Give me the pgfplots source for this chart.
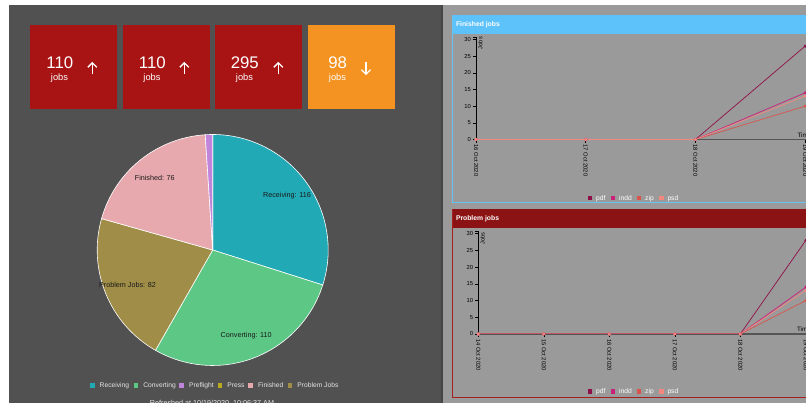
\documentclass[border=0pt]{standalone}
\usepackage{fontspec}
\setmainfont{Liberation Sans}
\usepackage{pgfplots}
\usepackage{pgfplotstable}
\pgfplotsset{compat=1.18}
\definecolor{bgL}{HTML}{515151}
\definecolor{bgR}{HTML}{9A9A9A}
\definecolor{stripe}{HTML}{464646}
\definecolor{boxred}{HTML}{A81414}
\definecolor{boxorange}{HTML}{F49321}
\definecolor{cRec}{HTML}{21A9B5}
\definecolor{cCon}{HTML}{5DC886}
\definecolor{cPre}{HTML}{C085DB}
\definecolor{cPress}{HTML}{B8AB1E}
\definecolor{cFin}{HTML}{E7A9AE}
\definecolor{cProb}{HTML}{A08E48}
\definecolor{finH}{HTML}{5EC2FA}
\definecolor{finB}{HTML}{66C3F2}
\definecolor{proH}{HTML}{8C1313}
\definecolor{proB}{HTML}{A52020}
\definecolor{cpdf}{HTML}{8F1048}
\definecolor{cindd}{HTML}{C9207A}
\definecolor{czip}{HTML}{D9544D}
\definecolor{cpsd}{HTML}{F5877E}
\definecolor{axgray}{HTML}{555555}
\definecolor{legtxt}{HTML}{E6E6E6}

\pgfplotstableread{
value
116
110
82
76
4
0
}\pietable

\pgfplotstableread{
x pdf indd zip psd
0 0 0 0 0
1 0 0 0 0
2 0 0 0 0
3 28 14 10 13
}\finished

\pgfplotstableread{
x pdf indd zip psd
0 0 0 0 0
1 0 0 0 0
2 0 0 0 0
3 0 0 0 0
4 0 0 0 0
5 28 14 10 13
}\problem

\pgfplotsset{
  lineax/.style={
    anchor=south west, scale only axis, enlargelimits=false,
    ymin=0, ymax=30.7,
    axis x line=bottom, axis y line=left,
    axis line style={-},
    x axis line style={line width=1.7pt, color=axgray},
    y axis line style={black, line width=0.7pt},
    ytick={0,5,...,30},
    extra y ticks={30.7}, extra y tick labels={},
    tick align=outside, major tick length=3.5pt,
    tick style={black, line width=0.6pt},
    /pgf/number format/assume math mode=true,
    ticklabel style={font=\fontsize{5.8}{6}\selectfont, text=black},
    xticklabel style={rotate=-90, anchor=west, inner sep=1.5pt},
    yticklabel style={inner sep=1.5pt},
    every axis plot/.append style={line width=0.7pt, mark=*, mark size=1.1pt},
  }
}

\begin{document}
\begin{tikzpicture}[x=1pt,y=1pt]
\useasboundingbox (0,0) rectangle (806,403);
\clip (0,0) rectangle (806,403);
% pie angles from the table
\gdef\pietotal{0}
\foreach \r in {0,...,5}{%
  \pgfplotstablegetelem{\r}{value}\of\pietable
  \pgfmathsetmacro\tmpt{\pietotal+\pgfplotsretval}%
  \xdef\pietotal{\tmpt}%
}
\gdef\cum{0}
\foreach \r in {0,...,5}{%
  \pgfmathsetmacro\tmpa{90-\cum/\pietotal*360}%
  \expandafter\xdef\csname pa\r\endcsname{\tmpa}%
  \pgfplotstablegetelem{\r}{value}\of\pietable
  \pgfmathsetmacro\tmpc{\cum+\pgfplotsretval}%
  \xdef\cum{\tmpc}%
}
\pgfmathsetmacro\tmpa{90-\cum/\pietotal*360}
\expandafter\xdef\csname pa6\endcsname{\tmpa}

\begin{scope}[shift={(0pt,403pt)}, y=-1pt]
\fill[white] (0,0) rectangle (806,403);
\fill[bgL] (9,5) rectangle (441,403);
\fill[stripe] (441,5) rectangle (443,403);
\fill[bgR] (443,5) rectangle (806,403);
% KPI boxes
\fill[boxred] (30,25) rectangle (117,109.5);
\fill[boxred] (122.5,25) rectangle (209.5,109.5);
\fill[boxred] (215,25) rectangle (302,109.5);
\fill[boxorange] (308,25) rectangle (395,109.5);
\foreach \bx/\nm/\ax in {30/110/92.3, 122.5/110/184.3, 215/295/278.3}{%
  \node[white, font=\fontsize{16.8}{17}\selectfont, inner sep=0] at (\bx+29.8,62.8) {\nm};
  \node[white, font=\fontsize{9.3}{10}\selectfont, inner sep=0] at (\bx+29.5,77.7) {jobs};
  \draw[white, line width=1.3pt] (\ax,74.5) -- (\ax,63);
  \draw[white, line width=1.3pt, line join=miter] (\ax-4.5,67.3) -- (\ax,62.8) -- (\ax+4.5,67.3);
}
\node[white, font=\fontsize{16.8}{17}\selectfont, inner sep=0] at (337.7,62.8) {98};
\node[white, font=\fontsize{9.3}{10}\selectfont, inner sep=0] at (337.5,77.7) {jobs};
\draw[white, line width=1.3pt] (366,62.5) -- (366,74);
\draw[white, line width=1.3pt, line join=miter] (361.5,69.7) -- (366,74.2) -- (370.5,69.7);
% right panels
\draw[finB, line width=0.8pt] (452.5,15.5) rectangle (830,202.5);
\fill[finH] (452.5,15.5) rectangle (830,34);
\node[white, font=\bfseries\fontsize{6.8}{7}\selectfont, anchor=west, inner sep=0] at (455.8,25) {Finished jobs};
\draw[proB, line width=0.8pt] (452.5,209.5) rectangle (830,397);
\fill[proH] (452.5,209.5) rectangle (830,228);
\node[white, font=\bfseries\fontsize{6.8}{7}\selectfont, anchor=west, inner sep=0] at (455.8,219) {Problem jobs};
\coordinate (finO) at (476,139.5);
\coordinate (proO) at (478.3,334);
\coordinate (pieC) at (212.7,250);
\end{scope}

% pie chart
\begin{axis}[at={(pieC)}, anchor=center, x=115.5pt, y=115.5pt,
  xmin=-1, xmax=1, ymin=-1, ymax=1, hide axis, clip=false]
\fill[cRec, draw=white, line width=0.6pt] (axis cs:0,0) -- ++(\csname pa0\endcsname:115.5pt) arc[start angle=\csname pa0\endcsname, end angle=\csname pa1\endcsname, radius=115.5pt] -- cycle;
\fill[cCon, draw=white, line width=0.6pt] (axis cs:0,0) -- ++(\csname pa1\endcsname:115.5pt) arc[start angle=\csname pa1\endcsname, end angle=\csname pa2\endcsname, radius=115.5pt] -- cycle;
\fill[cProb, draw=white, line width=0.6pt] (axis cs:0,0) -- ++(\csname pa2\endcsname:115.5pt) arc[start angle=\csname pa2\endcsname, end angle=\csname pa3\endcsname, radius=115.5pt] -- cycle;
\fill[cFin, draw=white, line width=0.6pt] (axis cs:0,0) -- ++(\csname pa3\endcsname:115.5pt) arc[start angle=\csname pa3\endcsname, end angle=\csname pa4\endcsname, radius=115.5pt] -- cycle;
\fill[cPre, draw=white, line width=0.6pt] (axis cs:0,0) -- ++(\csname pa4\endcsname:115.5pt) arc[start angle=\csname pa4\endcsname, end angle=\csname pa5\endcsname, radius=115.5pt] -- cycle;
\node[font=\fontsize{7.2}{8}\selectfont, text=black!90, inner sep=0] at (axis cs:{0.797*cos((\csname pa0\endcsname+\csname pa1\endcsname)/2)},{0.797*sin((\csname pa0\endcsname+\csname pa1\endcsname)/2)}) {Receiving: 116};
\node[font=\fontsize{7.2}{8}\selectfont, text=black!90, inner sep=0] at (axis cs:{0.797*cos((\csname pa1\endcsname+\csname pa2\endcsname)/2)},{0.797*sin((\csname pa1\endcsname+\csname pa2\endcsname)/2)}) {Converting: 110};
\node[font=\fontsize{7.2}{8}\selectfont, text=black!90, inner sep=0] at (axis cs:{0.797*cos((\csname pa2\endcsname+\csname pa3\endcsname)/2)},{0.797*sin((\csname pa2\endcsname+\csname pa3\endcsname)/2)}) {Problem Jobs: 82};
\node[font=\fontsize{7.2}{8}\selectfont, text=black!90, inner sep=0] at (axis cs:{0.797*cos((\csname pa3\endcsname+\csname pa4\endcsname)/2)},{0.797*sin((\csname pa3\endcsname+\csname pa4\endcsname)/2)}) {Finished: 76};
\end{axis}

% Finished jobs line chart
\begin{axis}[lineax, at={(finO)}, width=362pt, height=102.3pt, xmin=0, xmax=3.3,
  xtick={0,1,2,3}, xticklabels={16 Oct 2020,17 Oct 2020,18 Oct 2020,19 Oct 2020}]
\addplot[cpdf] table[x=x, y=pdf] {\finished};
\addplot[cindd] table[x=x, y=indd] {\finished};
\addplot[czip] table[x=x, y=zip] {\finished};
\addplot[cpsd] table[x=x, y=psd] {\finished};
\end{axis}

% Problem jobs line chart
\begin{axis}[lineax, at={(proO)}, width=340.6pt, height=102.6pt, xmin=0, xmax=5.2,
  xtick={0,1,2,3,4,5}, xticklabels={14 Oct 2020,15 Oct 2020,16 Oct 2020,17 Oct 2020,18 Oct 2020,19 Oct 2020}]
\addplot[cpdf] table[x=x, y=pdf] {\problem};
\addplot[cindd] table[x=x, y=indd] {\problem};
\addplot[czip] table[x=x, y=zip] {\problem};
\addplot[cpsd] table[x=x, y=psd] {\problem};
\end{axis}

\begin{scope}[shift={(0pt,403pt)}, y=-1pt]
% axis titles
\node[rotate=90, anchor=north east, inner sep=0, font=\fontsize{5.7}{6}\selectfont] at (478,36.8) {Jobs};
\node[rotate=90, anchor=north east, inner sep=0, font=\fontsize{5.7}{6}\selectfont] at (480.3,232.5) {Jobs};
\node[anchor=base west, inner sep=0, font=\fontsize{6.3}{7}\selectfont] at (797.3,137.3) {Time};
\node[anchor=base west, inner sep=0, font=\fontsize{6.3}{7}\selectfont] at (796.8,331.3) {Time};
% line chart legends
\foreach \yy in {198, 391.7}{%
  \foreach \sx/\col/\lab in {590/cpdf/pdf, 613/cindd/indd, 639/czip/zip, 661.3/cpsd/psd}{%
    \fill[\col] (\sx-2.3,\yy-2.3) rectangle (\sx+2.3,\yy+2.3);
    \node[anchor=base west, inner sep=0, text=white, font=\fontsize{6.7}{7}\selectfont] at (\sx+6,\yy+2.3) {\lab};
  }
}
% pie legend
\foreach \sx/\col/\lab in {92.3/cRec/Receiving, 136/cCon/Converting, 181.7/cPre/Preflight, 220/cPress/Press, 250.7/cFin/Finished, 290/cProb/Problem Jobs}{%
  \fill[\col] (\sx-2.4,385.3-2.4) rectangle (\sx+2.4,385.3+2.4);
  \node[anchor=base west, inner sep=0, text=legtxt, font=\fontsize{6.7}{7}\selectfont] at (\sx+7.2,387.7) {\lab};
}
\node[anchor=base, inner sep=0, text=legtxt, font=\fontsize{7.2}{8}\selectfont] at (212,405.3) {Refreshed at 10/19/2020, 10:06:37 AM};
\end{scope}
\end{tikzpicture}
\end{document}
